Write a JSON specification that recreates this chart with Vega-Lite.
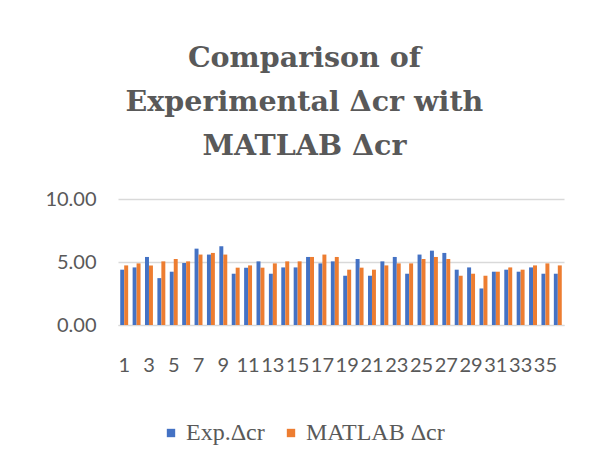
{
  "$schema": "https://vega.github.io/schema/vega-lite/v6.json",
  "width": 446,
  "height": 126,
  "padding": {"left": 44, "top": 43, "right": 5, "bottom": 5},
  "background": "white",
  "title": {
    "text": ["Comparison of", "Experimental Δcr with", "MATLAB Δcr"],
    "font": "DejaVu Serif",
    "fontWeight": "bold",
    "fontSize": 28.5,
    "lineHeight": 44,
    "color": "#595959",
    "anchor": "middle",
    "frame": "bounds",
    "offset": 29
  },
  "data": {
    "values": [
      {"i": 1, "s": "Exp.Δcr", "v": 4.39}, {"i": 1, "s": "MATLAB Δcr", "v": 4.73},
      {"i": 2, "s": "Exp.Δcr", "v": 4.57}, {"i": 2, "s": "MATLAB Δcr", "v": 4.89},
      {"i": 3, "s": "Exp.Δcr", "v": 5.40}, {"i": 3, "s": "MATLAB Δcr", "v": 4.73},
      {"i": 4, "s": "Exp.Δcr", "v": 3.72}, {"i": 4, "s": "MATLAB Δcr", "v": 5.05},
      {"i": 5, "s": "Exp.Δcr", "v": 4.23}, {"i": 5, "s": "MATLAB Δcr", "v": 5.24},
      {"i": 6, "s": "Exp.Δcr", "v": 4.92}, {"i": 6, "s": "MATLAB Δcr", "v": 5.05},
      {"i": 7, "s": "Exp.Δcr", "v": 6.06}, {"i": 7, "s": "MATLAB Δcr", "v": 5.59},
      {"i": 8, "s": "Exp.Δcr", "v": 5.59}, {"i": 8, "s": "MATLAB Δcr", "v": 5.72},
      {"i": 9, "s": "Exp.Δcr", "v": 6.25}, {"i": 9, "s": "MATLAB Δcr", "v": 5.59},
      {"i": 10, "s": "Exp.Δcr", "v": 4.07}, {"i": 10, "s": "MATLAB Δcr", "v": 4.55},
      {"i": 11, "s": "Exp.Δcr", "v": 4.55}, {"i": 11, "s": "MATLAB Δcr", "v": 4.73},
      {"i": 12, "s": "Exp.Δcr", "v": 5.05}, {"i": 12, "s": "MATLAB Δcr", "v": 4.55},
      {"i": 13, "s": "Exp.Δcr", "v": 4.07}, {"i": 13, "s": "MATLAB Δcr", "v": 4.89},
      {"i": 14, "s": "Exp.Δcr", "v": 4.57}, {"i": 14, "s": "MATLAB Δcr", "v": 5.05},
      {"i": 15, "s": "Exp.Δcr", "v": 4.57}, {"i": 15, "s": "MATLAB Δcr", "v": 5.05},
      {"i": 16, "s": "Exp.Δcr", "v": 5.40}, {"i": 16, "s": "MATLAB Δcr", "v": 5.40},
      {"i": 17, "s": "Exp.Δcr", "v": 4.89}, {"i": 17, "s": "MATLAB Δcr", "v": 5.59},
      {"i": 18, "s": "Exp.Δcr", "v": 5.05}, {"i": 18, "s": "MATLAB Δcr", "v": 5.40},
      {"i": 19, "s": "Exp.Δcr", "v": 3.91}, {"i": 19, "s": "MATLAB Δcr", "v": 4.39},
      {"i": 20, "s": "Exp.Δcr", "v": 5.24}, {"i": 20, "s": "MATLAB Δcr", "v": 4.55},
      {"i": 21, "s": "Exp.Δcr", "v": 3.91}, {"i": 21, "s": "MATLAB Δcr", "v": 4.39},
      {"i": 22, "s": "Exp.Δcr", "v": 5.05}, {"i": 22, "s": "MATLAB Δcr", "v": 4.73},
      {"i": 23, "s": "Exp.Δcr", "v": 5.40}, {"i": 23, "s": "MATLAB Δcr", "v": 4.89},
      {"i": 24, "s": "Exp.Δcr", "v": 4.07}, {"i": 24, "s": "MATLAB Δcr", "v": 4.89},
      {"i": 25, "s": "Exp.Δcr", "v": 5.59}, {"i": 25, "s": "MATLAB Δcr", "v": 5.24},
      {"i": 26, "s": "Exp.Δcr", "v": 5.90}, {"i": 26, "s": "MATLAB Δcr", "v": 5.40},
      {"i": 27, "s": "Exp.Δcr", "v": 5.72}, {"i": 27, "s": "MATLAB Δcr", "v": 5.24},
      {"i": 28, "s": "Exp.Δcr", "v": 4.39}, {"i": 28, "s": "MATLAB Δcr", "v": 3.91},
      {"i": 29, "s": "Exp.Δcr", "v": 4.57}, {"i": 29, "s": "MATLAB Δcr", "v": 4.07},
      {"i": 30, "s": "Exp.Δcr", "v": 2.90}, {"i": 30, "s": "MATLAB Δcr", "v": 3.91},
      {"i": 31, "s": "Exp.Δcr", "v": 4.23}, {"i": 31, "s": "MATLAB Δcr", "v": 4.23},
      {"i": 32, "s": "Exp.Δcr", "v": 4.39}, {"i": 32, "s": "MATLAB Δcr", "v": 4.57},
      {"i": 33, "s": "Exp.Δcr", "v": 4.23}, {"i": 33, "s": "MATLAB Δcr", "v": 4.39},
      {"i": 34, "s": "Exp.Δcr", "v": 4.57}, {"i": 34, "s": "MATLAB Δcr", "v": 4.73},
      {"i": 35, "s": "Exp.Δcr", "v": 4.07}, {"i": 35, "s": "MATLAB Δcr", "v": 4.89},
      {"i": 36, "s": "Exp.Δcr", "v": 4.07}, {"i": 36, "s": "MATLAB Δcr", "v": 4.73}
    ]
  },
  "mark": {"type": "bar"},
  "encoding": {
    "x": {
      "field": "i",
      "type": "ordinal",
      "scale": {"paddingInner": 0.36, "paddingOuter": 0.18},
      "axis": {
        "title": null,
        "labelAngle": 0,
        "labelOverlap": false,
        "labelExpr": "datum.value % 2 === 1 ? datum.label : ''",
        "labelFont": "Lato",
        "labelFontSize": 20,
        "labelColor": "#595959",
        "labelPadding": 30,
        "ticks": false,
        "domainColor": "#d9d9d9",
        "grid": false
      }
    },
    "xOffset": {"field": "s", "type": "nominal", "sort": ["Exp.Δcr", "MATLAB Δcr"]},
    "y": {
      "field": "v",
      "type": "quantitative",
      "scale": {"domain": [0, 10]},
      "axis": {
        "title": null,
        "values": [0, 5, 10],
        "format": ".2f",
        "labelFont": "Lato",
        "labelFontSize": 20,
        "labelColor": "#595959",
        "labelPadding": 22,
        "ticks": false,
        "domain": false,
        "gridColor": "#d9d9d9",
        "gridWidth": 1.5
      }
    },
    "color": {
      "field": "s",
      "type": "nominal",
      "scale": {"domain": ["Exp.Δcr", "MATLAB Δcr"], "range": ["#4472C4", "#ED7D31"]},
      "legend": {
        "title": null,
        "orient": "none",
        "legendX": 41,
        "legendY": 222,
        "direction": "horizontal",
        "symbolType": "square",
        "symbolSize": 70,
        "symbolStrokeWidth": 0,
        "labelFont": "Liberation Serif",
        "labelFontSize": 24,
        "labelColor": "#595959",
        "labelOffset": 3,
        "columnPadding": 14
      }
    }
  },
  "config": {
    "view": {"stroke": null}
  }
}
